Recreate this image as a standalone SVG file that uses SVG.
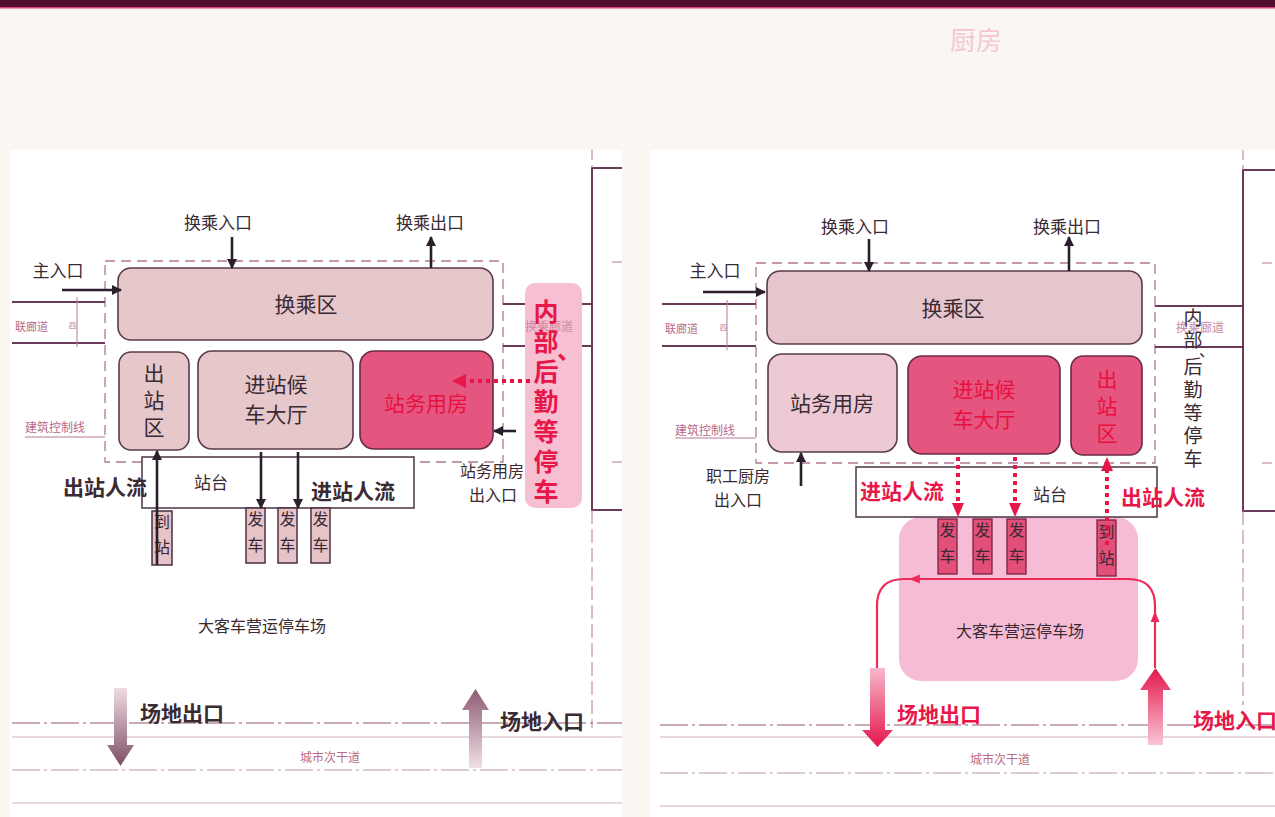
<svg xmlns="http://www.w3.org/2000/svg" width="1275" height="817" viewBox="0 0 1275 817">
<defs>
<style>
text{font-family:"Noto Sans CJK SC","Liberation Sans",sans-serif;fill:#3a2a33}
.t16{font-size:16px}
.t17{font-size:17px}
.t21{font-size:21px}
.b{font-weight:bold}
.red{fill:#e8174a}
.tiny{font-size:11px;fill:#b86a86}
.vert{writing-mode:vertical-rl}
.box{fill:#e6c7ca;stroke:#5a3a4c;stroke-width:1.6}
.boxl{fill:#ecc9d3;stroke:#5a3a4c;stroke-width:1.6}
.hot{fill:#e4567f;stroke:#6a2a44;stroke-width:1.6}
.plat{fill:#ffffff;stroke:#4a3444;stroke-width:1.5}
.tag{fill:#e6c3c9;stroke:#4a3040;stroke-width:1.5}
.tagr{fill:#e2507a;stroke:#7a2040;stroke-width:1.3}
.dash{fill:none;stroke:#b07a92;stroke-width:1.3;stroke-dasharray:10 6}
.wall{fill:none;stroke:#6a3a58;stroke-width:2}
.thin{fill:none;stroke:#b47a92;stroke-width:1}
.road{fill:none;stroke:#cfb2c0;stroke-width:1.2}
.roadd{fill:none;stroke:#b890a4;stroke-width:1.3;stroke-dasharray:28 4 3 4}
.arr{fill:none;stroke:#2a1f2a;stroke-width:2.6}
.dot{fill:none;stroke:#e8174a;stroke-width:4;stroke-dasharray:4 4}
.route{fill:none;stroke:#ee2a5a;stroke-width:2.2}
</style>
<marker id="ah" viewBox="0 0 10 10" refX="9" refY="5" markerWidth="4" markerHeight="4" orient="auto"><path d="M0,0 L10,5 L0,10 z" fill="#2a1f2a"/></marker>
<marker id="ahroute" viewBox="0 0 10 10" refX="9" refY="5" markerWidth="11" markerHeight="11" orient="auto" markerUnits="userSpaceOnUse"><path d="M0,1 L10,5 L0,9 z" fill="#ee2a5a"/></marker>
<linearGradient id="gDownL" x1="0" y1="0" x2="0" y2="1"><stop offset="0" stop-color="#efdce3"/><stop offset="1" stop-color="#7e4e66"/></linearGradient>
<linearGradient id="gUpL" x1="0" y1="0" x2="0" y2="1"><stop offset="0" stop-color="#8e5a74"/><stop offset="1" stop-color="#f1e0e6"/></linearGradient>
<linearGradient id="gDownR" x1="0" y1="0" x2="0" y2="1"><stop offset="0" stop-color="#f7b8cb"/><stop offset="1" stop-color="#e4164c"/></linearGradient>
<linearGradient id="gUpR" x1="0" y1="0" x2="0" y2="1"><stop offset="0" stop-color="#e4164c"/><stop offset="1" stop-color="#f9c6d5"/></linearGradient>
<linearGradient id="gHot" x1="0" y1="0" x2="0" y2="1"><stop offset="0" stop-color="#e86a8e"/><stop offset="1" stop-color="#e2507a"/></linearGradient>
</defs>

<!-- page -->
<rect x="0" y="0" width="1275" height="817" fill="#faf7f3"/>
<rect x="10" y="150" width="612" height="667" fill="#ffffff"/>
<rect x="650" y="150" width="625" height="667" fill="#ffffff"/>
<rect x="0" y="0" width="1275" height="7" fill="#4e0d2a"/>
<rect x="0" y="7" width="1275" height="1.5" fill="#e0407a"/>
<text x="950" y="50" style="font-size:26px;fill:#f4c8d3">厨房</text>

<!-- ================= LEFT DIAGRAM ================= -->
<g id="left-site">
<rect class="dash" x="105" y="261" width="398" height="201"/>
<line class="thin" x1="612" y1="262" x2="622" y2="262" stroke="#e89aa8"/>
<line class="thin" x1="612" y1="462" x2="622" y2="462" stroke="#e89aa8"/>
<line class="wall" x1="12" y1="302" x2="105" y2="302"/>
<line class="wall" x1="12" y1="343" x2="105" y2="343"/>
<line class="thin" x1="77" y1="297" x2="77" y2="347"/>
<text class="tiny" x="15" y="331">联廊道</text>
<text class="tiny" x="69" y="328" style="font-size:7px">四</text>
<text class="tiny" x="25" y="432" style="font-size:12px">建筑控制线</text>
<line class="thin" x1="25" y1="437" x2="105" y2="437"/>
<path class="wall" d="M622,168 H592 V510 H622"/>
<line class="wall" x1="503" y1="304" x2="592" y2="304"/>
<line class="wall" x1="503" y1="346" x2="592" y2="346"/>
<line class="thin" x1="592" y1="150" x2="592" y2="168" stroke-dasharray="10 5"/>
<line class="thin" x1="592" y1="510" x2="592" y2="728" stroke-dasharray="14 5"/>
<line class="roadd" x1="12" y1="723" x2="622" y2="723"/>
<line class="road" x1="12" y1="737" x2="622" y2="737"/>
<line class="roadd" x1="12" y1="770" x2="622" y2="770" style="stroke:#d4bcc8"/>
<line class="road" x1="12" y1="803" x2="622" y2="803"/>
<text class="tiny" x="330" y="762" text-anchor="middle" style="font-size:12px">城市次干道</text>
</g>

<g id="left-parking-band">
<rect x="525" y="283" width="57" height="225" rx="10" fill="#f7bfd2"/>
<text class="tiny" x="549" y="331" text-anchor="middle" style="font-size:12px;fill:#c98aa2">换乘廊道</text>
</g>

<g id="left-transfer">
<rect class="box" x="118" y="268" width="375" height="72" rx="13"/>
<text class="t21" x="306" y="312" text-anchor="middle">换乘区</text>
</g>
<g id="left-exit-zone">
<rect class="box" x="119" y="352" width="70" height="98" rx="12"/>
<text class="t21 vert" x="154" y="363" style="letter-spacing:6px">出站区</text>
</g>
<g id="left-hall">
<rect class="box" x="198" y="351" width="155" height="98" rx="14"/>
<text class="t21" x="276" y="392" text-anchor="middle">进站候</text>
<text class="t21" x="276" y="422" text-anchor="middle">车大厅</text>
</g>
<g id="left-office">
<rect class="hot" x="360" y="351" width="133" height="98" rx="14" fill="url(#gHot)"/>
<text class="t21 red" x="426" y="411" text-anchor="middle" style="fill:#e8103e">站务用房</text>
</g>
<g id="left-platform">
<rect class="plat" x="142" y="457" width="272" height="51"/>
<text class="t17" x="211" y="489" text-anchor="middle">站台</text>
</g>
<g id="left-tags">
<rect class="tag" x="152" y="511" width="20" height="54"/>
<text class="t16 vert" x="162" y="514" style="letter-spacing:9px">到站</text>
<rect class="tag" x="246" y="508" width="19" height="55"/>
<text class="t16 vert" x="255.5" y="511" style="letter-spacing:10px">发车</text>
<rect class="tag" x="278" y="508" width="19" height="55"/>
<text class="t16 vert" x="287.5" y="511" style="letter-spacing:10px">发车</text>
<rect class="tag" x="311" y="508" width="19" height="55"/>
<text class="t16 vert" x="320.5" y="511" style="letter-spacing:10px">发车</text>
</g>
<g id="left-labels">
<text class="t17" x="218" y="229" text-anchor="middle">换乘入口</text>
<text class="t17" x="430" y="229" text-anchor="middle">换乘出口</text>
<text class="t17" x="58" y="277" text-anchor="middle">主入口</text>
<text class="t16" x="492" y="477" text-anchor="middle">站务用房</text>
<text class="t16" x="493" y="501" text-anchor="middle">出入口</text>
<text class="t21 b" x="105" y="495" text-anchor="middle">出站人流</text>
<text class="t21 b" x="353" y="499" text-anchor="middle">进站人流</text>
<text class="t16" x="262" y="632" text-anchor="middle">大客车营运停车场</text>
<text class="t21 b" x="140" y="721">场地出口</text>
<text class="t21 b" x="500" y="729">场地入口</text>
<text class="red b vert" x="546" y="299" style="font-size:25px;letter-spacing:5px">内部</text>
<text class="red b" x="557" y="359" style="font-size:24px">、</text>
<text class="red b vert" x="546" y="359" style="font-size:25px;letter-spacing:5px">后勤等停车</text>
</g>

<g id="left-connectors">
<line class="arr" x1="232" y1="237" x2="232" y2="268" marker-end="url(#ah)"/>
<line class="arr" x1="431" y1="268" x2="431" y2="237" marker-end="url(#ah)"/>
<line class="arr" x1="62" y1="290" x2="121" y2="290" marker-end="url(#ah)"/>
<line class="arr" x1="516" y1="431" x2="494" y2="431" marker-end="url(#ah)"/>
<line class="arr" x1="157" y1="565" x2="157" y2="451" marker-end="url(#ah)"/>
<line class="arr" x1="261" y1="452" x2="261" y2="508" marker-end="url(#ah)"/>
<line class="arr" x1="298" y1="452" x2="298" y2="508" marker-end="url(#ah)"/>
<line class="dot" x1="530" y1="381" x2="462" y2="381"/>
<path d="M452,381 L466,374 L466,388 z" fill="#e8174a"/>
<path d="M114,688 H127 V745 H134 L120.5,766 L107,745 H114 z" fill="url(#gDownL)"/>
<path d="M469,768 H482 V710 H489 L475.5,689 L462,710 H469 z" fill="url(#gUpL)"/>
</g>

<!-- ================= RIGHT DIAGRAM ================= -->
<g id="right-site">
<rect class="dash" x="756" y="263" width="399" height="200"/>
<line class="thin" x1="1262" y1="263" x2="1272" y2="263" stroke="#e89aa8"/>
<line class="thin" x1="1262" y1="463" x2="1272" y2="463" stroke="#e89aa8"/>
<line class="wall" x1="662" y1="304" x2="756" y2="304"/>
<line class="wall" x1="662" y1="346" x2="756" y2="346"/>
<line class="thin" x1="727" y1="300" x2="727" y2="350"/>
<text class="tiny" x="665" y="333">联廊道</text>
<text class="tiny" x="720" y="330" style="font-size:7px">四</text>
<text class="tiny" x="675" y="435" style="font-size:12px">建筑控制线</text>
<line class="thin" x1="675" y1="438" x2="756" y2="438"/>
<path class="wall" d="M1275,170 H1243 V511 H1275"/>
<line class="wall" x1="1155" y1="306" x2="1243" y2="306"/>
<line class="wall" x1="1155" y1="347" x2="1243" y2="347"/>
<line class="thin" x1="1243" y1="150" x2="1243" y2="170" stroke-dasharray="10 5"/>
<line class="thin" x1="1243" y1="511" x2="1243" y2="705" stroke-dasharray="14 5"/>
<text class="tiny" x="1200" y="332" text-anchor="middle" style="font-size:12px;fill:#c98aa2">换乘廊道</text>
<line class="roadd" x1="660" y1="725" x2="1275" y2="725"/>
<line class="road" x1="660" y1="737" x2="1275" y2="737"/>
<line class="roadd" x1="660" y1="773" x2="1275" y2="773" style="stroke:#d4bcc8"/>
<line class="road" x1="660" y1="806" x2="1275" y2="806"/>
<text class="tiny" x="1000" y="764" text-anchor="middle" style="font-size:12px">城市次干道</text>
</g>

<g id="right-parking">
<rect x="899" y="517" width="239" height="164" rx="22" fill="#f7bcd5"/>
<text class="t16" x="1020" y="637" text-anchor="middle">大客车营运停车场</text>
</g>
<g id="right-transfer">
<rect class="box" x="767" y="271" width="375" height="73" rx="13" style="fill:#e6c6cd"/>
<text class="t21" x="953" y="316" text-anchor="middle">换乘区</text>
</g>
<g id="right-office">
<rect class="boxl" x="768" y="354" width="129" height="98" rx="14"/>
<text class="t21" x="832" y="411" text-anchor="middle">站务用房</text>
</g>
<g id="right-hall">
<rect class="hot" x="908" y="356" width="152" height="98" rx="14" fill="url(#gHot)"/>
<text class="t21 red" x="984" y="397" text-anchor="middle" style="fill:#e8103e">进站候</text>
<text class="t21 red" x="984" y="427" text-anchor="middle" style="fill:#e8103e">车大厅</text>
</g>
<g id="right-exit-zone">
<rect class="hot" x="1071" y="356" width="71" height="99" rx="12" fill="url(#gHot)"/>
<text class="t21 red vert" x="1107" y="369" style="letter-spacing:6px;fill:#e8103e">出站区</text>
</g>
<g id="right-platform">
<rect class="plat" x="856" y="467" width="301" height="50"/>
<text class="t17" x="1050" y="501" text-anchor="middle">站台</text>
</g>
<g id="right-tags">
<rect class="tagr" x="938" y="519" width="19" height="55"/>
<text class="t16 vert" x="947.5" y="522" style="letter-spacing:10px">发车</text>
<rect class="tagr" x="973" y="519" width="19" height="55"/>
<text class="t16 vert" x="982.5" y="522" style="letter-spacing:10px">发车</text>
<rect class="tagr" x="1007" y="519" width="19" height="55"/>
<text class="t16 vert" x="1016.5" y="522" style="letter-spacing:10px">发车</text>
<rect class="tagr" x="1097" y="520" width="19" height="56"/>
<text class="t16 vert" x="1106.5" y="524" style="letter-spacing:10px">到站</text>
</g>
<g id="right-labels">
<text class="t17" x="855" y="233" text-anchor="middle">换乘入口</text>
<text class="t17" x="1067" y="233" text-anchor="middle">换乘出口</text>
<text class="t17" x="715" y="277" text-anchor="middle">主入口</text>
<text class="t16" x="738" y="482" text-anchor="middle">职工厨房</text>
<text class="t16" x="738" y="506" text-anchor="middle">出入口</text>
<text class="t21 b red" x="902" y="499" text-anchor="middle">进站人流</text>
<text class="t21 b red" x="1163" y="505" text-anchor="middle">出站人流</text>
<text class="t21 b red" x="939" y="722" text-anchor="middle">场地出口</text>
<text class="t21 b red" x="1193" y="728">场地入口</text>
<text class="vert" x="1193" y="308" style="font-size:19px;letter-spacing:3px">内部</text>
<text x="1199" y="356" style="font-size:16px">、</text>
<text class="vert" x="1193" y="357" style="font-size:19px;letter-spacing:4px">后勤等停车</text>
</g>

<g id="right-connectors">
<line class="arr" x1="869" y1="239" x2="869" y2="271" marker-end="url(#ah)"/>
<line class="arr" x1="1069" y1="271" x2="1069" y2="237" marker-end="url(#ah)"/>
<line class="arr" x1="703" y1="292" x2="765" y2="292" marker-end="url(#ah)"/>
<line class="arr" x1="801" y1="486" x2="801" y2="453" marker-end="url(#ah)"/>
<line class="dot" x1="958" y1="457" x2="958" y2="504"/>
<path d="M958,517 L952,503 L964,503 z" fill="#e8174a"/>
<line class="dot" x1="1015" y1="457" x2="1015" y2="504"/>
<path d="M1015,517 L1009,503 L1021,503 z" fill="#e8174a"/>
<line class="dot" x1="1107" y1="545" x2="1107" y2="470"/>
<path d="M1107,457 L1101,471 L1113,471 z" fill="#e8174a"/>
<path class="route" d="M1155,668 V612" marker-end="url(#ahroute)"/>
<path class="route" d="M1155,612 V606 Q1155,579 1128,579 H910" marker-end="url(#ahroute)"/>
<path class="route" d="M912,579 H904 Q877,579 877,606 V686" marker-end="url(#ahroute)"/>
<path d="M870,668 H885 V730 H893 L877.5,747 L862,730 H870 z" fill="url(#gDownR)"/>
<path d="M1148,745 H1163 V690 H1171 L1155.5,668 L1140,690 H1148 z" fill="url(#gUpR)"/>
</g>
</svg>
